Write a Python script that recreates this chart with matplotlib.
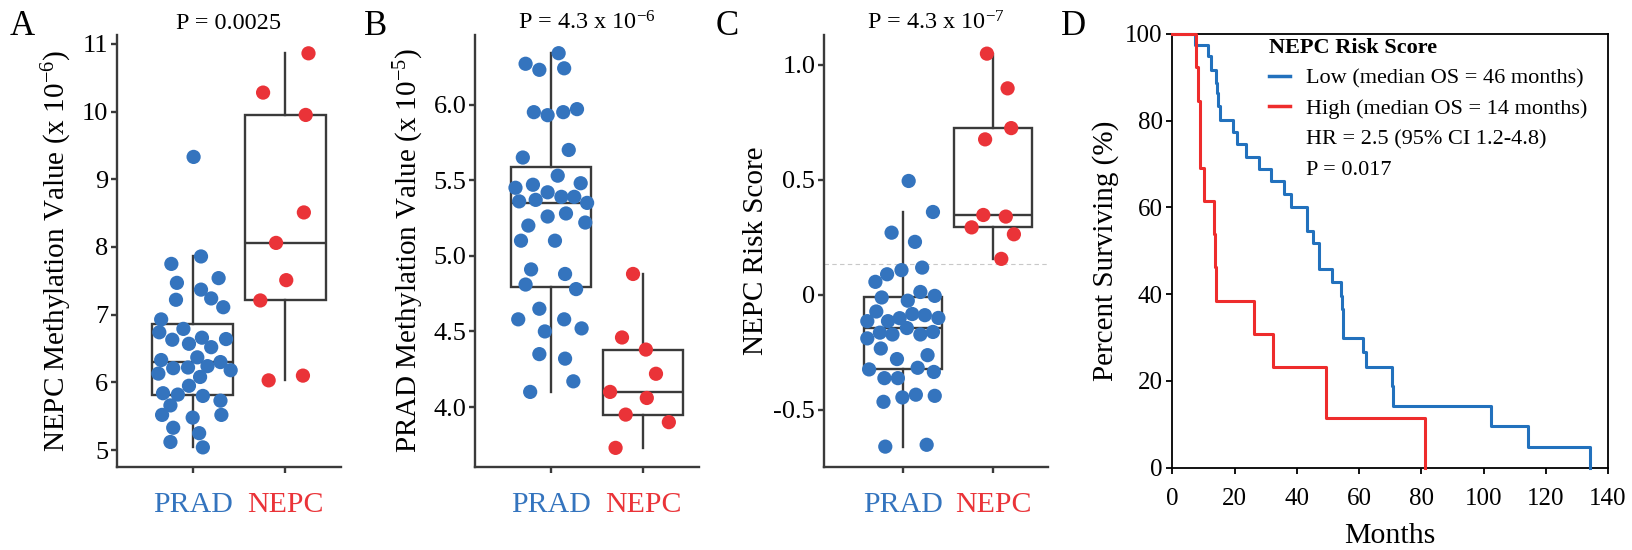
import matplotlib

matplotlib.use("Agg")

import matplotlib.pyplot as plt
from matplotlib.lines import Line2D

plt.rcParams.update({
    "font.family": ["Liberation Serif", "DejaVu Serif"],
    "mathtext.fontset": "custom",
    "mathtext.rm": "Liberation Serif",
    "mathtext.it": "Liberation Serif:italic",
    "mathtext.bf": "Liberation Serif:bold",
    "axes.unicode_minus": False,
})

BLUE = "#3474be"
RED = "#ea3338"
GREY = "#3a3a3a"
KM_BLUE = "#2271bd"
KM_RED = "#ee2c2c"

groups = ["PRAD", "NEPC"]

# panel A: NEPC methylation value (x 1e-6), jitter offsets
a_prad = [9.33, 7.75, 7.86, 7.47, 7.54, 7.22, 7.37, 7.24, 7.11, 6.93, 6.74, 6.79, 6.63,
          6.57, 6.66, 6.52, 6.64, 6.33, 6.37, 6.30, 6.21, 6.22, 6.24, 6.18, 6.13, 6.08,
          5.95, 5.84, 5.82, 5.80, 5.73, 5.66, 5.52, 5.48, 5.52, 5.33, 5.25, 5.12, 5.04]
a_prad_dx = [0.01, -0.23, 0.09, -0.17, 0.28, -0.18, 0.09, 0.20, 0.33, -0.34, -0.36, -0.10, -0.22,
             -0.04, 0.10, 0.20, 0.36, -0.34, 0.05, 0.30, -0.21, -0.05, 0.16, 0.41, -0.37, 0.08,
             -0.04, -0.32, -0.16, 0.11, 0.30, -0.24, -0.33, 0.00, 0.31, -0.21, 0.07, -0.24, 0.11]
a_nepc = [10.86, 10.28, 9.95, 8.51, 8.06, 7.51, 7.21, 6.03, 6.10]
a_nepc_dx = [0.25, -0.24, 0.22, 0.20, -0.10, 0.01, -0.27, -0.18, 0.19]

# panel B: PRAD methylation value (x 1e-5)
b_prad = [6.27, 6.23, 6.34, 6.24, 5.95, 5.93, 5.95, 5.97, 5.70, 5.65, 5.53, 5.45, 5.47,
          5.48, 5.42, 5.36, 5.37, 5.39, 5.39, 5.35, 5.26, 5.28, 5.20, 5.22, 5.10, 5.10,
          4.91, 4.88, 4.81, 4.78, 4.65, 4.58, 4.58, 4.52, 4.50, 4.35, 4.32, 4.17, 4.10]
b_prad_dx = [-0.28, -0.13, 0.08, 0.14, -0.19, -0.04, 0.13, 0.28, 0.19, -0.31, 0.07, -0.39, -0.20,
             0.32, -0.04, -0.35, -0.17, 0.11, 0.25, 0.39, -0.04, 0.16, -0.25, 0.37, -0.33, 0.04,
             -0.22, 0.15, -0.28, 0.27, -0.13, -0.36, 0.14, 0.33, -0.07, -0.13, 0.15, 0.24, -0.23]
b_nepc = [4.88, 4.46, 4.38, 4.22, 4.10, 4.06, 3.95, 3.90, 3.73]
b_nepc_dx = [-0.11, -0.23, 0.03, 0.14, -0.36, 0.04, -0.19, 0.28, -0.30]

# panel C: NEPC risk score
c_prad = [0.495, 0.36, 0.27, 0.23, 0.107, 0.118, 0.089, 0.056, -0.012, 0.012, -0.005, -0.026,
          -0.073, -0.084, -0.089, -0.102, -0.101, -0.115, -0.115, -0.145, -0.165, -0.173, -0.173,
          -0.162, -0.19, -0.234, -0.28, -0.263, -0.325, -0.318, -0.336, -0.363, -0.363, -0.435,
          -0.44, -0.447, -0.466, -0.661, -0.653]
c_prad_dx = [0.06, 0.33, -0.13, 0.13, -0.02, 0.21, -0.18, -0.31, -0.24, 0.19, 0.35, 0.05,
             -0.30, 0.10, 0.24, -0.04, 0.39, -0.40, -0.17, 0.04, -0.26, -0.12, 0.19,
             0.33, -0.40, -0.25, -0.07, 0.27, -0.38, 0.16, 0.34, -0.21, -0.06, 0.14,
             0.35, -0.01, -0.22, -0.20, 0.26]
c_nepc = [1.049, 0.898, 0.725, 0.676, 0.347, 0.34, 0.293, 0.263, 0.156]
c_nepc_dx = [-0.07, 0.16, 0.20, -0.09, -0.11, 0.14, -0.24, 0.23, 0.09]
c_cutoff = 0.134

# panel D: Kaplan-Meier steps (months, percent surviving)
low_t = [0, 7.4, 11.6, 12.3, 13.9, 14.5, 14.8, 15.4, 19.5, 20.9, 23.6, 28.0, 31.7, 35.8, 38.3,
         43.2, 43.4, 45.3, 47.0, 47.2, 51.4, 54.1, 54.4, 54.7, 55.0, 61.2, 62.3, 70.5, 70.8,
         102.3, 114.4, 134.2]
low_s = [100, 97.5, 94.9, 91.8, 88.8, 86.4, 83.5, 80.2, 77.3, 74.6, 71.6, 68.8, 66.0, 63.0, 60.2,
         57.1, 54.5, 51.7, 48.8, 45.9, 42.9, 39.6, 36.5, 33.0, 29.8, 26.7, 23.2, 18.7, 14.1,
         9.5, 4.8, 0]
high_t = [0, 7.5, 8.2, 8.8, 10.3, 13.4, 13.7, 13.9, 26.4, 32.5, 49.4, 81.2]
high_s = [100, 92.3, 84.6, 69.2, 61.5, 53.8, 46.2, 38.5, 30.8, 23.1, 11.5, 0]
legend_labels = ["Low (median OS = 46 months)", "High (median OS = 14 months)",
                 "HR = 2.5 (95% CI 1.2-4.8)", "P = 0.017"]


def box_panel(fig, rect, prad, prad_dx, nepc, nepc_dx, xlim, ylim, yticks, yticklabels,
              ylabel, title, labelpad):
    ax = fig.add_axes(rect)
    ax.boxplot([prad, nepc], positions=[1, 2], widths=0.87, whis=1.5, showfliers=False,
               showcaps=False, patch_artist=True, zorder=1,
               boxprops=dict(facecolor="white", edgecolor=GREY, linewidth=1.7),
               whiskerprops=dict(color=GREY, linewidth=1.7),
               medianprops=dict(color=GREY, linewidth=1.7))
    ax.scatter([1 + d for d in prad_dx], prad, s=105, color=BLUE, edgecolors="none", zorder=3)
    ax.scatter([2 + d for d in nepc_dx], nepc, s=105, color=RED, edgecolors="none", zorder=3)
    ax.set_xlim(*xlim)
    ax.set_ylim(*ylim)
    ax.set_xticks([1, 2])
    ax.set_xticklabels(groups)
    for lbl, c in zip(ax.get_xticklabels(), [BLUE, RED]):
        lbl.set_color(c)
    ax.set_yticks(yticks)
    ax.set_yticklabels(yticklabels)
    for side in ["top", "right"]:
        ax.spines[side].set_visible(False)
    for side in ["left", "bottom"]:
        ax.spines[side].set_color(GREY)
        ax.spines[side].set_linewidth(1.7)
    ax.tick_params(direction="out", length=4, width=1.7, color=GREY)
    ax.tick_params(axis="y", labelsize=19, pad=2)
    ax.tick_params(axis="x", labelsize=21.5, pad=14)
    ax.set_ylabel(ylabel, fontsize=21, labelpad=labelpad)
    ax.set_title(title, fontsize=17.5, pad=4)
    return ax


def main():
    fig = plt.figure(figsize=(16.32, 5.5), dpi=100)

    box_panel(fig, [0.0715, 0.1516, 0.1374, 0.7847], a_prad, a_prad_dx, a_nepc, a_nepc_dx,
              (0.18, 2.6), (4.756, 11.13), [5, 6, 7, 8, 9, 10, 11],
              ["5", "6", "7", "8", "9", "10", "11"],
              r"NEPC Methylation Value (x 10$^{\mathregular{-6}}$)", "P = 0.0025", 6)
    box_panel(fig, [0.2911, 0.1516, 0.1373, 0.7847], b_prad, b_prad_dx, b_nepc, b_nepc_dx,
              (0.17, 2.61), (3.606, 6.46), [4.0, 4.5, 5.0, 5.5, 6.0],
              ["4.0", "4.5", "5.0", "5.5", "6.0"],
              r"PRAD Methylation Value (x 10$^{\mathregular{-5}}$)",
              r"P = 4.3 x 10$^{\mathregular{-6}}$", 6)
    ax_c = box_panel(fig, [0.5046, 0.1516, 0.1376, 0.7847], c_prad, c_prad_dx, c_nepc,
                     c_nepc_dx, (0.113, 2.61), (-0.748, 1.13), [-0.5, 0, 0.5, 1.0],
                     ["-0.5", "0", "0.5", "1.0"], "NEPC Risk Score",
                     r"P = 4.3 x 10$^{\mathregular{-7}}$", 3)
    ax_c.axhline(c_cutoff, color="#c8c8c8", linestyle=(0, (4, 3)), linewidth=0.8, zorder=0)

    ax = fig.add_axes([0.7183, 0.15, 0.2670, 0.7882])
    ax.step(low_t, low_s, where="post", color=KM_BLUE, linewidth=2.2, clip_on=False, zorder=3)
    ax.step(high_t, high_s, where="post", color=KM_RED, linewidth=2.2, clip_on=False, zorder=3)
    ax.set_xlim(0, 140)
    ax.set_ylim(0, 100)
    ax.set_xticks(range(0, 141, 20))
    ax.set_yticks(range(0, 101, 20))
    for sp in ax.spines.values():
        sp.set_linewidth(1.3)
    ax.tick_params(direction="out", length=4, width=1.3, labelsize=18)
    ax.tick_params(axis="x", pad=11)
    ax.tick_params(axis="y", pad=3)
    ax.set_xlabel("Months", fontsize=21.5, labelpad=9)
    ax.set_ylabel("Percent Surviving (%)", fontsize=21, labelpad=4)
    handles = [Line2D([], [], color=KM_BLUE, linewidth=2.5),
               Line2D([], [], color=KM_RED, linewidth=2.5),
               Line2D([], [], color="none"),
               Line2D([], [], color="none")]
    ax.legend(handles, legend_labels, title="NEPC Risk Score",
              title_fontproperties={"weight": "bold", "size": 16}, fontsize=16,
              frameon=False, loc="upper left", bbox_to_anchor=(0.222, 0.99),
              alignment="left", handlelength=0.95, handletextpad=0.7,
              labelspacing=0.44, borderpad=0, borderaxespad=0)

    for letter, x in zip("ABCD", [10, 364, 716, 1061]):
        fig.text(x / 1632, 0.936, letter, fontsize=25, va="baseline")

    fig.savefig("out.png", dpi=100)
    plt.close(fig)


if __name__ == "__main__":
    main()
